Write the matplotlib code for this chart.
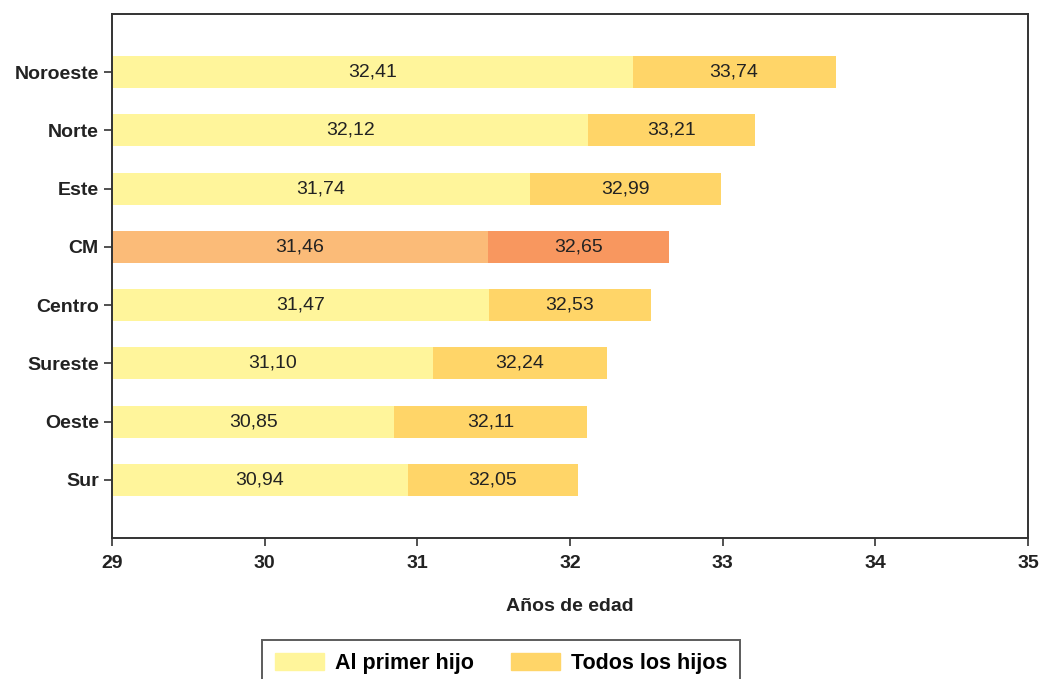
import matplotlib
matplotlib.use("Agg")
import matplotlib.pyplot as plt
import matplotlib.patches as mpatches
import numpy as np

plt.rcParams['font.family'] = ['Liberation Sans', 'DejaVu Sans']

zonas = ["Sur", "Oeste", "Sureste", "Centro", "CM", "Este", "Norte", "Noroeste"]
primer_hijo = [30.94, 30.85, 31.10, 31.47, 31.46, 31.74, 32.12, 32.41]
todos_hijos = [32.05, 32.11, 32.24, 32.53, 32.65, 32.99, 33.21, 33.74]

c_primer = "#FFF59B"
c_todos = "#FFD568"
c_primer_cm = "#FBBB78"
c_todos_cm = "#F8975F"
base = 29
narrow = ['Liberation Sans Narrow', 'Liberation Sans', 'DejaVu Sans']


def main():
    fig = plt.figure(figsize=(10.39, 6.79), dpi=100)
    ax = fig.add_axes([0.1078, 0.2077, 0.8816, 0.7717])

    y = np.arange(len(zonas))
    col_p = [c_primer_cm if z == "CM" else c_primer for z in zonas]
    col_t = [c_todos_cm if z == "CM" else c_todos for z in zonas]

    t = np.array(todos_hijos)
    p = np.array(primer_hijo)
    ax.barh(y, t - base, left=base, height=0.55, color=col_t, edgecolor="none")
    ax.barh(y, p - base, left=base, height=0.55, color=col_p, edgecolor="none")

    for i in range(len(zonas)):
        ax.text((base + p[i]) / 2, y[i], f"{p[i]:.2f}".replace(".", ","),
                ha="center", va="center", fontsize=14, color="#222222")
        ax.text((p[i] + t[i]) / 2, y[i], f"{t[i]:.2f}".replace(".", ","),
                ha="center", va="center", fontsize=14, color="#222222")

    ax.set_xlim(29, 35)
    ax.set_ylim(-1, 8)
    ax.set_yticks(y)
    ax.set_yticklabels(zonas, fontsize=14, fontweight="bold", color="#222222")
    ax.set_xticks(range(29, 36))
    ax.set_xticklabels([str(v) for v in range(29, 36)], fontsize=14,
                       fontweight="bold", color="#222222", family=narrow)
    ax.tick_params(axis="both", length=6, width=1.2, color="#333333")
    ax.tick_params(axis="x", pad=6)
    for s in ax.spines.values():
        s.set_linewidth(1.4)
        s.set_color("#333333")

    ax.set_xlabel("Años de edad", fontsize=14, fontweight="bold",
                  color="#222222", labelpad=19, family=narrow)

    handles = [mpatches.Patch(color=c_primer, label="Al primer hijo"),
               mpatches.Patch(color=c_todos, label="Todos los hijos")]
    leg = fig.legend(handles=handles, loc="upper left",
                     bbox_to_anchor=(262 / 1039, 1 - 640 / 679),
                     ncol=2, prop={"weight": "bold", "size": 15.5},
                     frameon=True, fancybox=False, handlelength=2.3,
                     handleheight=0.8, handletextpad=0.5, columnspacing=1.7,
                     borderpad=0.6, borderaxespad=0)
    leg.get_frame().set_edgecolor("#333333")
    leg.get_frame().set_linewidth(1.4)

    fig.savefig("out.png", dpi=100)


if __name__ == '__main__':
    main()
